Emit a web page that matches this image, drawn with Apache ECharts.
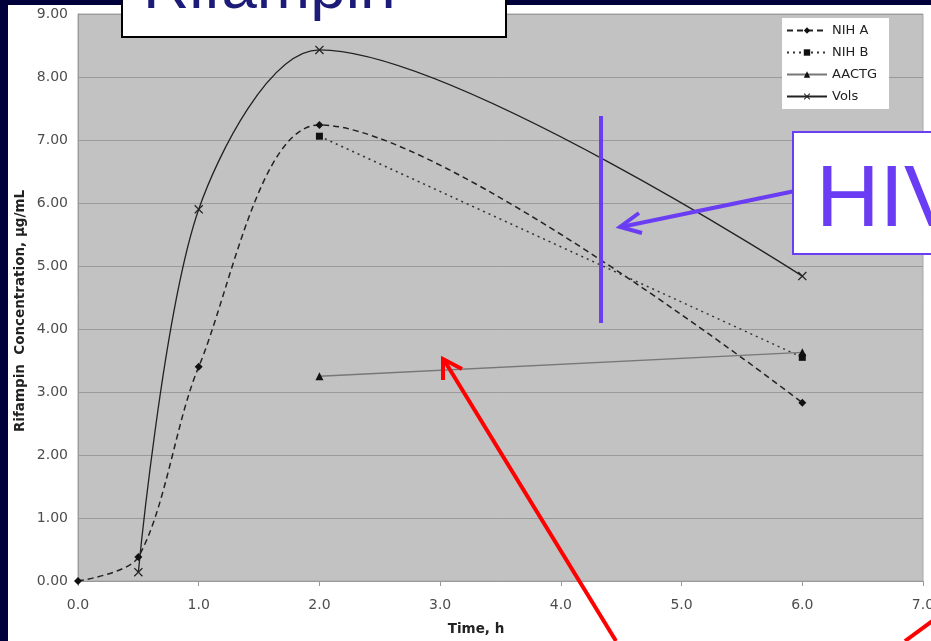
<!DOCTYPE html>
<html><head><meta charset="utf-8">
<script src="https://cdn.jsdelivr.net/npm/echarts@6/dist/echarts.min.js"></script>
<style>html,body{margin:0;padding:0;background:#00003a;}#c{width:931px;height:641px;}</style>
</head><body><div id="c"></div>
<script>
const nihA = [[0,0],[0.5,0.38],[1,3.40],[2,7.24],[6,2.83]];
const nihB = [[2,7.06],[6,3.55]];
const aactg = [[2,3.25],[6,3.63]];
const vols = [[0.5,0.14],[1,5.90],[2,8.43],[6,4.84]];
const seriesNames = ['NIH A','NIH B','AACTG','Vols'];
const yTicks = ['0.00','1.00','2.00','3.00','4.00','5.00','6.00','7.00','8.00','9.00'];
const xTicks = ['0.0','1.0','2.0','3.0','4.0','5.0','6.0','7.0'];

const chart = echarts.init(document.getElementById('c'));
const xSym = 'path://M0,1L1,0L5,4L9,0L10,1L6,5L10,9L9,10L5,6L1,10L0,9L4,5Z';
const purple = '#6a3cf4';
const font = 'DejaVu Sans';
chart.setOption({
  animation:false,
  backgroundColor:'#00003a',
  grid:{left:78, top:14, right:8, bottom:60, outerBoundsMode:'none', containLabel:false, show:true, backgroundColor:'#c2c2c2', borderColor:'#a8a8a8', borderWidth:1},
  xAxis:{type:'value', min:0, max:7, interval:1,
    axisLine:{show:true, lineStyle:{color:'#999'}}, axisTick:{show:true, length:5, lineStyle:{color:'#999'}},
    splitLine:{show:false},
    axisLabel:{fontFamily:font, fontSize:14, color:'#4d4d4d', margin:17, formatter:(v)=>xTicks[Math.round(v)]}},
  yAxis:{type:'value', min:0, max:9, interval:1,
    axisLine:{show:true, lineStyle:{color:'#999'}}, axisTick:{show:false},
    splitLine:{show:true, lineStyle:{color:'#9a9a9a', width:1}},
    axisLabel:{fontFamily:font, fontSize:14, color:'#4d4d4d', margin:10, formatter:(v)=>yTicks[Math.round(v)]}},
  legend:{orient:'vertical', left:782, top:18, padding:[6,12,6,4], itemGap:9,
    backgroundColor:'#ffffff', itemWidth:40, itemHeight:8,
    textStyle:{fontFamily:font, fontSize:13, color:'#222'},
    data:seriesNames},
  series:[
    {name:seriesNames[0], type:'line', data:nihA, smooth:0.3, symbol:'diamond', symbolSize:8,
      lineStyle:{color:'#222', width:1.5, type:[6,4]}, itemStyle:{color:'#111'}},
    {name:seriesNames[1], type:'line', data:nihB, symbol:'rect', symbolSize:7,
      lineStyle:{color:'#333', width:1.5, type:[2,4]}, itemStyle:{color:'#111'}},
    {name:seriesNames[2], type:'line', data:aactg, symbol:'triangle', symbolSize:8,
      lineStyle:{color:'#777', width:1.3}, itemStyle:{color:'#111'}},
    {name:seriesNames[3], type:'line', data:vols, smooth:0.3, symbol:xSym, symbolSize:9,
      lineStyle:{color:'#222', width:1.3}, itemStyle:{color:'#222'}}
  ],
  graphic:[
    {type:'rect', z:-10, shape:{x:8,y:5,width:930,height:640}, style:{fill:'#ffffff'}},
    {type:'text', z:50, x:20, y:311, rotation:Math.PI/2, style:{text:'Rifampin  Concentration, µg/mL', fill:'#222', fontFamily:font, fontWeight:'bold', fontSize:13.5, align:'center', verticalAlign:'middle'}},
    {type:'text', z:50, x:476, y:629, style:{text:'Time, h', fill:'#222', fontFamily:font, fontWeight:'bold', fontSize:13.5, align:'center', verticalAlign:'middle'}},
    {type:'rect', z:100, shape:{x:122,y:-5,width:384,height:42}, style:{fill:'#ffffff', stroke:'#000', lineWidth:2}},
    {type:'text', z:101, x:143, y:-42, style:{text:'Rifampin', fill:'#1c1c78', fontFamily:'Liberation Sans', fontSize:64}},
    {type:'line', z:100, shape:{x1:601,y1:116,x2:601,y2:323}, style:{stroke:purple, lineWidth:4}},
    {type:'line', z:100, shape:{x1:795,y1:191,x2:621,y2:227}, style:{stroke:purple, lineWidth:4}},
    {type:'polyline', z:100, shape:{points:[[639,213],[620,227],[642,233]]}, style:{stroke:purple, lineWidth:4, fill:null}},
    {type:'rect', z:100, shape:{x:793,y:132,width:150,height:122}, style:{fill:'#ffffff', stroke:purple, lineWidth:2}},
    {type:'text', z:101, x:816, y:158, style:{text:'HIV', fill:purple, fontFamily:'Liberation Sans', fontSize:88}},
    {type:'line', z:100, shape:{x1:616,y1:641,x2:444,y2:360}, style:{stroke:'#ff0000', lineWidth:4}},
    {type:'polyline', z:100, shape:{points:[[443,380],[443,359],[462,369]]}, style:{stroke:'#ff0000', lineWidth:4, fill:null}},
    {type:'line', z:100, shape:{x1:905,y1:641,x2:935,y2:619}, style:{stroke:'#ff0000', lineWidth:4}}
  ]
});
</script></body></html>
